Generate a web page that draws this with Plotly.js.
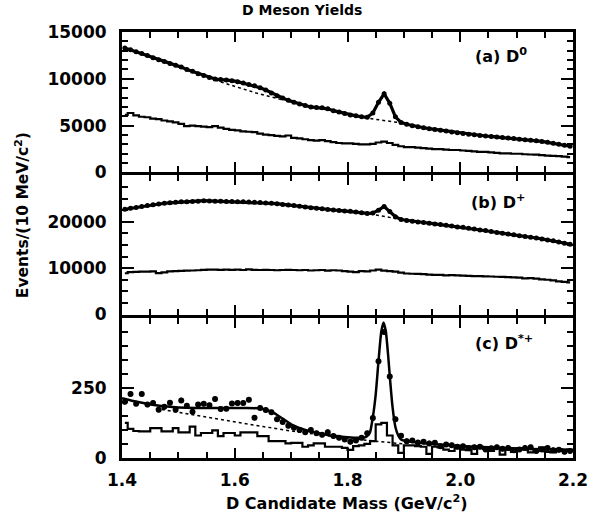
<!DOCTYPE html>
<html><head><meta charset="utf-8">
<script src="https://cdn.plot.ly/plotly-3.0.1.min.js"></script>
<style>html,body{margin:0;padding:0;background:#fff}</style>
</head><body><div id="chart" style="width:602px;height:518px"></div>
<script>
// bin centres (GeV/c^2), 10 MeV bins
const mass = [
1.405,1.415,1.425,1.435,1.445,1.455,1.465,1.475,1.485,1.495,
1.505,1.515,1.525,1.535,1.545,1.555,1.565,1.575,1.585,1.595,
1.605,1.615,1.625,1.635,1.645,1.655,1.665,1.675,1.685,1.695,
1.705,1.715,1.725,1.735,1.745,1.755,1.765,1.775,1.785,1.795,
1.805,1.815,1.825,1.835,1.845,1.855,1.865,1.875,1.885,1.895,
1.905,1.915,1.925,1.935,1.945,1.955,1.965,1.975,1.985,1.995,
2.005,2.015,2.025,2.035,2.045,2.055,2.065,2.075,2.085,2.095,
2.105,2.115,2.125,2.135,2.145,2.155,2.165,2.175,2.185,2.195];

// (a) D0
const d0Signal = [
13300,13100,12900,12700,12500,12250,12050,11850,11650,11450,
11250,11000,10800,10550,10350,10150,9980,9920,9880,9800,
9700,9550,9400,9250,9050,8800,8500,8200,7950,7700,
7500,7300,7150,7000,6950,6900,6800,6600,6450,6300,
6150,6050,5950,5900,6350,7500,8400,7400,5950,5350,
5150,5000,4880,4780,4680,4600,4500,4420,4330,4250,
4150,4080,4020,3960,3900,3850,3800,3740,3680,3620,
3560,3500,3450,3400,3320,3220,3120,3020,2920,2800];
const d0Side = [
6150,6350,6100,5950,5900,5750,5700,5550,5450,5350,
5200,4950,5000,4950,4900,4850,4950,4800,4650,4550,
4500,4400,4350,4300,4150,4050,4000,3900,3850,3950,
3700,3650,3550,3450,3400,3450,3350,3250,3150,3100,
3100,3050,3000,3000,3050,3200,3300,3150,2950,2800,
2700,2700,2650,2600,2550,2500,2500,2450,2400,2400,
2350,2300,2250,2200,2200,2150,2100,2050,2050,2000,
2000,1950,1920,1900,1850,1800,1780,1750,1700,1650];
const d0BkgX = [1.565,1.60,1.64,1.685,null,1.83,1.865,1.90];
const d0BkgY = [9850,9200,8450,7750,null,5850,5550,5250];

// (b) D+
const dpSignal = [
22700,22900,23100,23300,23500,23700,23850,24000,24100,24200,
24300,24350,24400,24450,24550,24500,24450,24450,24400,24400,
24350,24300,24250,24200,24150,24050,24000,23900,23750,23600,
23500,23350,23200,23050,22900,22800,22650,22550,22450,22350,
22250,22100,21950,21800,21900,22500,23300,22200,21100,20500,
20300,20100,19950,19850,19700,19550,19400,19250,19100,18900,
18800,18600,18450,18250,18100,17900,17700,17550,17350,17200,
17000,16850,16650,16500,16300,16100,15900,15650,15400,15150];
const dpSide = [
8900,9150,9200,9250,9250,9300,8950,9100,9300,9350,
9400,9450,9500,9550,9650,9700,9700,9650,9700,9650,
9700,9600,9750,9650,9600,9650,9600,9550,9600,9650,
9600,9550,9600,9500,9550,9600,9450,9550,9500,9350,
9250,9150,9350,9300,9500,9700,9450,9350,9250,9050,
8850,8800,8750,8700,8600,8550,8550,8450,8500,8450,
8400,8350,8300,8300,8250,8200,8150,8100,8050,8000,
7950,7800,7850,7750,7600,7500,7350,7150,7050,6950];
const dpBkgX = [1.84,1.865,1.895];
const dpBkgY = [21700,21200,20500];

// (c) D*+
const dstData = [
200,228,193,228,190,196,172,182,197,172,
205,186,165,190,193,188,210,174,175,194,
196,196,207,143,178,171,163,138,128,115,
108,100,92,100,88,83,92,78,72,66,
58,62,72,88,142,344,448,290,138,79,
60,62,55,58,52,54,42,48,45,40,
42,35,38,40,30,35,38,33,36,28,
30,36,38,25,30,36,28,29,22,25];
const dstSide = [
125,104,96,95,95,106,106,95,95,106,
91,91,112,80,89,89,98,78,89,89,
80,91,91,91,78,78,60,60,60,52,
54,54,40,45,52,52,40,40,40,36,
29,42,45,50,60,120,125,80,45,18,
45,45,42,40,15,40,38,30,25,35,
30,28,15,40,32,25,35,12,30,22,
35,30,20,25,38,22,20,32,25,30];
const dstFitX = [1.40,1.42,1.44,1.46,1.48,1.50,1.53,1.56,1.59,1.62,1.64,1.655,1.67,1.685,1.70,1.72,1.74,1.76,1.78,1.80,1.82,1.83,1.835,1.84,1.845,1.85,1.855,1.86,1.864,1.868,1.872,1.876,1.88,1.885,1.89,1.895,1.90,1.92,1.95,2.0,2.05,2.1,2.15,2.2];
const dstFitY = [213,203,195,188,183,180,178,178,178,178,177,172,160,140,120,103,92,84,78,74,72,73,78,92,146,225,345,450,482,450,368,268,180,110,80,66,62,56,50,43,38,34,31,29];
const dstBkgX = [1.46,1.50,1.55,1.60,1.65,1.70,1.75,1.80,1.85,1.90];
const dstBkgY = [176,162,145,128,112,96,82,70,60,50];

const xTickLabels = ['1.4','1.6','1.8','2.0','2.2'];
const xTickVals = [1.4,1.6,1.8,2.0,2.2];

const K = 'black';
const FONT = 'DejaVu Sans, Liberation Sans, Arial, sans-serif';

const traces = [
  // (a)
  {x: mass, y: d0Side, xaxis:'x3', yaxis:'y3', mode:'lines', line:{color:K, width:2.2, shape:'hvh'}},
  {x: d0BkgX, y: d0BkgY, xaxis:'x3', yaxis:'y3', mode:'lines', line:{color:K, width:1.5, dash:'dot'}},
  {x: mass, y: d0Signal, xaxis:'x3', yaxis:'y3', mode:'lines+markers', line:{color:K, width:3.2}, marker:{color:K, size:5}},
  // (b)
  {x: mass, y: dpSide, xaxis:'x2', yaxis:'y2', mode:'lines', line:{color:K, width:2.2, shape:'hvh'}},
  {x: dpBkgX, y: dpBkgY, xaxis:'x2', yaxis:'y2', mode:'lines', line:{color:K, width:1.5, dash:'dot'}},
  {x: mass, y: dpSignal, xaxis:'x2', yaxis:'y2', mode:'lines+markers', line:{color:K, width:3.2}, marker:{color:K, size:5}},
  // (c)
  {x: mass, y: dstSide, xaxis:'x', yaxis:'y', mode:'lines', line:{color:K, width:2.2, shape:'hvh'}},
  {x: dstBkgX, y: dstBkgY, xaxis:'x', yaxis:'y', mode:'lines', line:{color:K, width:1.5, dash:'dot'}},
  {x: dstFitX, y: dstFitY, xaxis:'x', yaxis:'y', mode:'lines', line:{color:K, width:2.5, shape:'spline', smoothing:0.6}},
  {x: mass, y: dstData, xaxis:'x', yaxis:'y', mode:'markers', marker:{color:K, size:6},
   error_y:{type:'constant', value:9, width:0, thickness:2, color:K}}
];

const tickfont = {family: FONT, size: 17, color: K, weight: 'bold'};
function xax(extra){
  return Object.assign({
    range:[1.3999, 2.2001], showline:true, linewidth:3, linecolor:K, mirror:'ticks',
    ticks:'inside', ticklen:10, tickwidth:2, tickcolor:K,
    tickmode:'array', tickvals:xTickVals, ticktext:xTickLabels,
    minor:{tickmode:'linear', tick0:1.4, dtick:0.05, ticks:'inside', ticklen:6, tickwidth:2, tickcolor:K, showgrid:false},
    showgrid:false, zeroline:false, tickfont:tickfont, ticklabelstandoff:5
  }, extra);
}
function yax(extra){
  return Object.assign({
    showline:true, linewidth:3, linecolor:K, mirror:'ticks',
    ticks:'inside', ticklen:12, tickwidth:2, tickcolor:K, tickmode:'linear', tick0:0,
    showgrid:false, zeroline:false, tickfont:tickfont, tickformat:'d', ticklabelstandoff:9
  }, extra);
}
function minorY(d){ return {tickmode:'linear', tick0:0, dtick:d, ticks:'inside', ticklen:6, tickwidth:2, tickcolor:K, showgrid:false}; }

const g = 0.0035; // half of the 3px line, so stacked frame lines coincide
const layout = {
  width:602, height:518,
  margin:{l:122, r:29, t:32, b:60},
  paper_bgcolor:'white', plot_bgcolor:'white',
  showlegend:false,
  xaxis: xax({anchor:'y', showticklabels:true}),
  xaxis2: xax({anchor:'y2', matches:'x', showticklabels:false}),
  xaxis3: xax({anchor:'y3', matches:'x', showticklabels:false}),
  yaxis: yax({domain:[0, 0.3333 - g], range:[0, 499.9], dtick:250, anchor:'x', minor:minorY(50)}),
  yaxis2: yax({domain:[0.3333 + g, 0.6667 - g], range:[0, 29990], dtick:10000, anchor:'x2', minor:minorY(2500)}),
  yaxis3: yax({domain:[0.6667 + g, 1], range:[0, 15000], dtick:5000, anchor:'x3', minor:minorY(1000)}),
  annotations:[
    {text:'D Meson Yields', xref:'paper', yref:'paper', x:0.399, y:1.0516, showarrow:false,
     font:{family:FONT, size:14, color:K, weight:'bold'}, xanchor:'center', yanchor:'middle'},
    {text:'D Candidate Mass (GeV/c<sup>2</sup>)', xref:'paper', yref:'paper', x:0.499, y:-0.1056, showarrow:false,
     font:{family:FONT, size:16, color:K, weight:'bold'}, xanchor:'center', yanchor:'middle'},
    {text:'Events/(10 MeV/c<sup>2</sup>)', xref:'paper', yref:'paper', x:-0.2217, y:0.570, showarrow:false, textangle:-90,
     font:{family:FONT, size:15.5, color:K, weight:'bold'}, xanchor:'center', yanchor:'middle'},
    {text:'(a) D<sup>0</sup>', xref:'paper', yref:'paper', x:0.840, y:0.9437, showarrow:false,
     font:{family:FONT, size:16, color:K, weight:'bold'}, xanchor:'center', yanchor:'middle'},
    {text:'(b) D<sup>+</sup>', xref:'paper', yref:'paper', x:0.834, y:0.601, showarrow:false,
     font:{family:FONT, size:16, color:K, weight:'bold'}, xanchor:'center', yanchor:'middle'},
    {text:'(c) D<sup>*+</sup>', xref:'paper', yref:'paper', x:0.847, y:0.272, showarrow:false,
     font:{family:FONT, size:16, color:K, weight:'bold'}, xanchor:'center', yanchor:'middle'}
  ]
};

Plotly.newPlot('chart', traces, layout, {staticPlot:true, displayModeBar:false});
</script></body></html>
